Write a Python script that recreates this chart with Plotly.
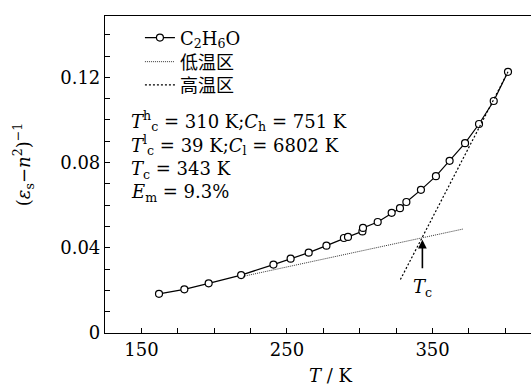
import plotly.graph_objects as go

# Data
T_data = [162.1, 179.5, 196.2, 218.5, 240.7, 252.5, 264.9, 277.1, 289.1, 291.9,
          301.8, 302.2, 312.3, 321.9, 327.6, 332.0, 342.0, 352.3, 361.7, 372.3,
          381.9, 392.0, 401.8]
inv_data = [0.0184, 0.0205, 0.0233, 0.0272, 0.0321, 0.0349, 0.0377, 0.0410, 0.0446, 0.0451,
            0.0477, 0.0493, 0.0521, 0.0564, 0.0586, 0.0615, 0.0672, 0.0736, 0.0808, 0.0891,
            0.0981, 0.1089, 0.1226]

T_low = [220.0, 370.9]
inv_low = [0.0266, 0.0488]
T_high = [327.9, 401.8]
inv_high = [0.0251, 0.1226]

T_c = 343.0
arrow_y = [0.0297, 0.0438]

x_ticks = [150, 250, 350]
y_ticks = [0, 0.04, 0.08, 0.12]
y_ticklabels = ["0", "0.04", "0.08", "0.12"]

series_names = ["C<sub>2</sub>H<sub>6</sub>O", "低温区", "高温区"]

info_lines = [
    "<i>T</i><sup>h</sup><sub>c</sub> = 310 K;<i>C</i><sub>h</sub> = 751 K",
    "<i>T</i><sup>l</sup><sub>c</sub> = 39 K;<i>C</i><sub>l</sub> = 6802 K",
    "<i>T</i><sub>c</sub> = 343 K",
    "<i>E</i><sub>m</sub> = 9.3%",
]
info_y = [0.0995, 0.0883, 0.0766, 0.0658]

SERIF = "DejaVu Serif, Liberation Serif, serif"
CJK = "DejaVu Serif, Noto Sans CJK SC, serif"
FS = 18

fig = go.Figure()
fig.add_trace(go.Scatter(
    x=T_data, y=inv_data, mode="lines+markers", name=series_names[0], legend="legend",
    line=dict(color="black", width=1.2),
    marker=dict(symbol="circle", size=7, color="white", line=dict(color="black", width=1.2)),
))
fig.add_trace(go.Scatter(
    x=T_low, y=inv_low, mode="lines", name=series_names[1], legend="legend2",
    line=dict(color="black", width=0.8, dash="1px,1px"),
))
fig.add_trace(go.Scatter(
    x=T_high, y=inv_high, mode="lines", name=series_names[2], legend="legend3",
    line=dict(color="black", width=1.2, dash="2px,2px"),
))

annotations = []
for txt, yy in zip(info_lines, info_y):
    annotations.append(dict(x=141.3, y=yy, xref="x", yref="y", text=txt, showarrow=False,
                            xanchor="left", yanchor="middle",
                            font=dict(family=SERIF, size=FS, color="black")))
annotations.append(dict(x=T_c, y=arrow_y[1], ax=T_c, ay=arrow_y[0], xref="x", yref="y",
                        axref="x", ayref="y", text="", showarrow=True, arrowhead=2,
                        arrowsize=1.1, arrowwidth=1.6, arrowcolor="black"))
annotations.append(dict(x=T_c, y=0.0213, xref="x", yref="y", text="<i>T</i><sub>c</sub>",
                        showarrow=False, xanchor="center", yanchor="middle",
                        font=dict(family=SERIF, size=FS, color="black")))
annotations.append(dict(x=-0.192, y=0.53, xref="paper", yref="paper",
                        text="(<i>ε</i><sub>s</sub>−<i>n</i><sup>2</sup>)<sup>−1</sup>",
                        textangle=-90, showarrow=False, xanchor="center", yanchor="middle",
                        font=dict(family=SERIF, size=FS, color="black")))
annotations.append(dict(x=0.53, y=-0.1325, xref="paper", yref="paper",
                        text="<i>T</i> / K", showarrow=False, xanchor="center", yanchor="middle",
                        font=dict(family=SERIF, size=FS, color="black")))


def leg(ypos):
    return dict(x=0.082, y=ypos, xanchor="left", yanchor="middle",
                bgcolor="rgba(0,0,0,0)", font=dict(family=CJK, size=FS, color="black"),
                itemwidth=30)


fig.update_layout(
    width=531, height=387,
    margin=dict(l=105, r=0, t=16, b=54),
    paper_bgcolor="white", plot_bgcolor="white",
    showlegend=True,
    legend=leg(0.931), legend2=leg(0.855), legend3=leg(0.782),
    annotations=annotations,
    font=dict(family=SERIF, size=FS, color="black"),
)
fig.update_xaxes(
    range=[125, 417.6], showgrid=False, zeroline=False,
    showline=True, linecolor="black", linewidth=1.2, mirror=True,
    ticks="inside", ticklen=5, tickcolor="black", tickwidth=1,
    tickvals=x_ticks, ticktext=[str(v) for v in x_ticks],
    minor=dict(dtick=25, tick0=125, ticks="inside", ticklen=5, tickcolor="black", tickwidth=1),
    tickfont=dict(family=SERIF, size=FS, color="black"),
)
fig.update_yaxes(
    range=[0, 0.1488], showgrid=False, zeroline=False,
    showline=True, linecolor="black", linewidth=1.2, mirror=False,
    ticks="inside", ticklen=5, tickcolor="black", tickwidth=1,
    tickvals=y_ticks, ticktext=y_ticklabels,
    minor=dict(dtick=0.01, tick0=0, ticks="inside", ticklen=5, tickcolor="black", tickwidth=1),
    tickfont=dict(family=SERIF, size=FS, color="black"),
)

fig.write_html("out.html", config={"displayModeBar": False},
               post_script="document.body.style.margin='0';")
